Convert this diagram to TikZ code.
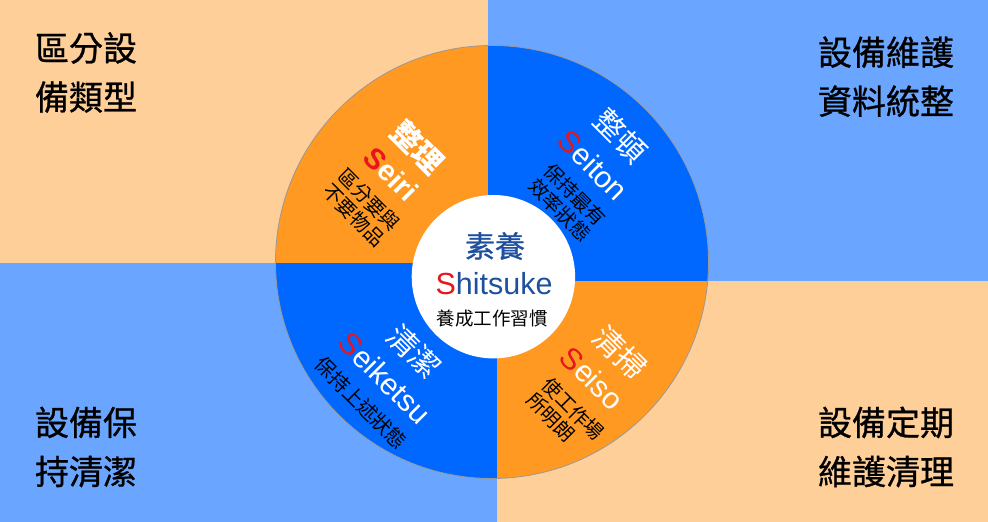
\documentclass[tikz,border=0pt]{standalone}
\usepackage{fontspec}
\setmainfont{Liberation Sans}
\newfontfamily\cjk{Noto Sans CJK TC}
\newfontfamily\cjkm{Noto Sans CJK TC}[FakeBold=0.8]
\usetikzlibrary{positioning}
\definecolor{peach}{RGB}{255,207,154}
\definecolor{skyblue}{RGB}{106,166,255}
\definecolor{deeporange}{RGB}{255,153,34}
\definecolor{deepblue}{RGB}{0,104,255}
\definecolor{inkblue}{RGB}{30,80,158}
\definecolor{sred}{RGB}{232,20,30}
\newcommand{\redS}{\textcolor{sred}{S}}

\begin{document}
\begin{tikzpicture}[x=1pt,y=1pt,
    cornertxt/.style={align=left,font=\cjkm\fontsize{34}{49}\selectfont},
    headtxt/.style={rotate=-45,text=white,font=\cjk\fontsize{30}{30}\selectfont},
    romtxt/.style={rotate=-45,text=white,font=\fontsize{30}{30}\selectfont},
    notetxt/.style={rotate=-45,align=left,font=\cjk\fontsize{19.5}{21.5}\selectfont}]
    \useasboundingbox (0,0) rectangle (988,522);

    % quadrants
    \fill[peach] (0,259.3) rectangle (487.7,522);
    \fill[skyblue] (487.7,241.3) rectangle (988,522);
    \fill[peach] (496.7,0) rectangle (988,241.3);
    \fill[skyblue] (0,0) rectangle (496.7,259.3);

    % wheel
    \begin{scope}
        \clip (492,260) circle (216.5);
        \fill[deeporange] (0,259.3) rectangle (487.7,522);
        \fill[deepblue] (487.7,241.3) rectangle (988,522);
        \fill[deeporange] (496.7,0) rectangle (988,241.3);
        \fill[deepblue] (0,0) rectangle (496.7,259.3);
    \end{scope}
    \draw[gray!80,line width=0.8] (492,260) circle (216.5);
    \fill[white] (493.4,245.3) circle (81.7);

    \node[cornertxt] (tl) at (86,449.5) {區分設\\備類型};
    \node[cornertxt] (tr) at (886,445.3) {設備維護\\資料統整};
    \node[cornertxt] (bl) at (86,75) {設備保\\持清潔};
    \node[cornertxt] (br) at (886,75) {設備定期\\維護清理};

    \node[headtxt,font=\cjk\bfseries\fontsize{30}{30}\selectfont] (seirizh) at (418,375) {整理};
    \node[romtxt,font=\bfseries\fontsize{29}{29}\selectfont] (seiri) at (391,348) {\redS eiri};
    \node[notetxt] (seirinote) at (361.5,314.5) {區分要與\\不要物品};

    \node[headtxt] (seitonzh) at (621,386) {整頓};
    \node[romtxt] (seiton) at (593,357) {\redS eiton};
    \node[notetxt] (seitonnote) at (567.5,319.5) {保持最有\\效率狀態};

    \node[headtxt] (seisozh) at (620,169) {清掃};
    \node[romtxt] (seiso) at (592,144) {\redS eiso};
    \node[notetxt] (seisonote) at (565.5,105.5) {使工作場\\所明朗};

    \node[headtxt] (seiketsuzh) at (414,170) {清潔};
    \node[romtxt] (seiketsu) at (385,144) {\redS eiketsu};
    \node[notetxt,font=\cjk\fontsize{20}{21}\selectfont] (seiketsunote) at (361,119) {保持上述狀態};

    \node[text=inkblue,font=\cjkm\fontsize{30}{30}\selectfont] (shitsukezh) at (495,276) {素養};
    \node[text=inkblue,font=\fontsize{30.5}{30.5}\selectfont] (shitsuke) at (494,238) {\redS hitsuke};
    \node[font=\cjk\fontsize{18.5}{18.5}\selectfont] (shitsukenote) at (492,203.5) {養成工作習慣};
\end{tikzpicture}
\end{document}
